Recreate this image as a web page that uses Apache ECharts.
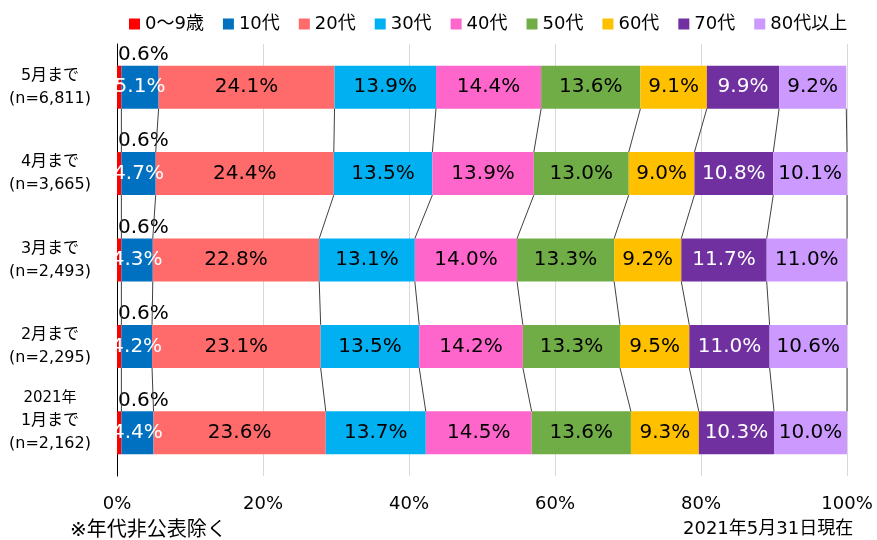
<!DOCTYPE html>
<html><head><meta charset="utf-8">
<script src="https://cdn.jsdelivr.net/npm/echarts@6/dist/echarts.min.js"></script>
<style>html,body{margin:0;padding:0;background:#fff}#c{width:877px;height:540px}</style>
</head><body><div id="c"></div>
<script>
const categories = ['2021年\n1月まで\n(n=2,162)', '2月まで\n(n=2,295)', '3月まで\n(n=2,493)', '4月まで\n(n=3,665)', '5月まで\n(n=6,811)'];
const seriesNames = ['0～9歳', '10代', '20代', '30代', '40代', '50代', '60代', '70代', '80代以上'];
const age0_9 = [0.6, 0.6, 0.6, 0.6, 0.6];
const age10 = [4.4, 4.2, 4.3, 4.7, 5.1];
const age20 = [23.6, 23.1, 22.8, 24.4, 24.1];
const age30 = [13.7, 13.5, 13.1, 13.5, 13.9];
const age40 = [14.5, 14.2, 14.0, 13.9, 14.4];
const age50 = [13.6, 13.3, 13.3, 13.0, 13.6];
const age60 = [9.3, 9.5, 9.2, 9.0, 9.1];
const age70 = [10.3, 11.0, 11.7, 10.8, 9.9];
const age80 = [10.0, 10.6, 11.0, 10.1, 9.2];
const xTicks = [0, 20, 40, 60, 80, 100];

const allSeries = [age0_9, age10, age20, age30, age40, age50, age60, age70, age80];
const colors = ['#FF0000', '#0070C0', '#FF6B6B', '#00B0F0', '#FF66CC', '#70AD47', '#FFC000', '#7030A0', '#CC99FF'];
const labelColors = ['#000', '#fff', '#000', '#000', '#000', '#000', '#000', '#fff', '#000'];
const FONT = '"DejaVu Sans", "Noto Sans CJK JP", sans-serif';
const BAR_W = 43;

const barSeries = allSeries.map((arr, i) => ({
  name: seriesNames[i],
  type: 'bar',
  stack: 'total',
  barWidth: BAR_W,
  data: arr,
  itemStyle: { color: colors[i] },
  label: i === 0 ? {
    show: true, position: [1, -11], align: 'left', verticalAlign: 'middle',
    formatter: p => p.value.toFixed(1) + '%', color: '#000', fontSize: 20, fontFamily: FONT
  } : {
    show: true, position: 'inside', formatter: p => p.value.toFixed(1) + '%',
    color: labelColors[i], fontSize: 20, fontFamily: FONT
  }
}));

// connector lines between consecutive bars, at each cumulative boundary
const connData = [];
for (let r = 0; r < categories.length - 1; r++) {
  let cumLow = 0, cumUp = 0;
  for (let k = 0; k < allSeries.length; k++) {
    cumLow += allSeries[k][r];
    cumUp += allSeries[k][r + 1];
    connData.push([cumUp, r + 1, cumLow, r]);
  }
}

const connSeries = {
  type: 'custom',
  silent: true,
  data: connData,
  encode: { x: [0, 2], y: [1, 3] },
  z: 3,
  renderItem: (params, api) => {
    const p1 = api.coord([api.value(0), api.value(1)]);
    const p2 = api.coord([api.value(2), api.value(3)]);
    const h = BAR_W / 2;
    return {
      type: 'line',
      shape: { x1: p1[0], y1: p1[1] + h, x2: p2[0], y2: p2[1] - h },
      style: { stroke: '#404040', lineWidth: 1 }
    };
  }
};

const chart = echarts.init(document.getElementById('c'), null, { renderer: 'canvas' });
chart.setOption({
  animation: false,
  textStyle: { fontFamily: FONT },
  legend: {
    data: seriesNames,
    left: 124, top: 10,
    itemWidth: 11, itemHeight: 11, itemGap: 19,
    icon: 'rect',
    textStyle: { fontSize: 18, color: '#000', fontFamily: FONT }
  },
  grid: { left: 117, right: 30, top: 44, bottom: 64 },
  xAxis: {
    type: 'value', min: 0, max: 100, interval: 20,
    axisLine: { show: false }, axisTick: { show: false },
    splitLine: { lineStyle: { color: '#d9d9d9', width: 1 } },
    axisLabel: { formatter: '{value}%', fontSize: 18, color: '#000', margin: 19, fontFamily: FONT }
  },
  yAxis: {
    type: 'category', data: categories,
    axisLine: { show: true, lineStyle: { color: '#000', width: 1 } },
    axisTick: { show: false },
    axisLabel: {
      align: 'center', margin: 67, fontSize: 16, lineHeight: 23, color: '#000', fontFamily: FONT,
      formatter: v => v.indexOf('2021年') === 0 ? '{s|2021年}' + v.slice(5) + '\n ' : v,
      rich: { s: { fontSize: 15, lineHeight: 23, fontFamily: FONT, color: '#000' } }
    }
  },
  graphic: [
    { type: 'text', left: 70, top: 521, style: { text: '※年代非公表除く', fontSize: 20, fill: '#000', fontFamily: FONT } },
    { type: 'text', left: 683, top: 520, style: { text: '2021年5月31日現在', fontSize: 18, fill: '#000', fontFamily: FONT } }
  ],
  series: [...barSeries, connSeries]
});
</script></body></html>
